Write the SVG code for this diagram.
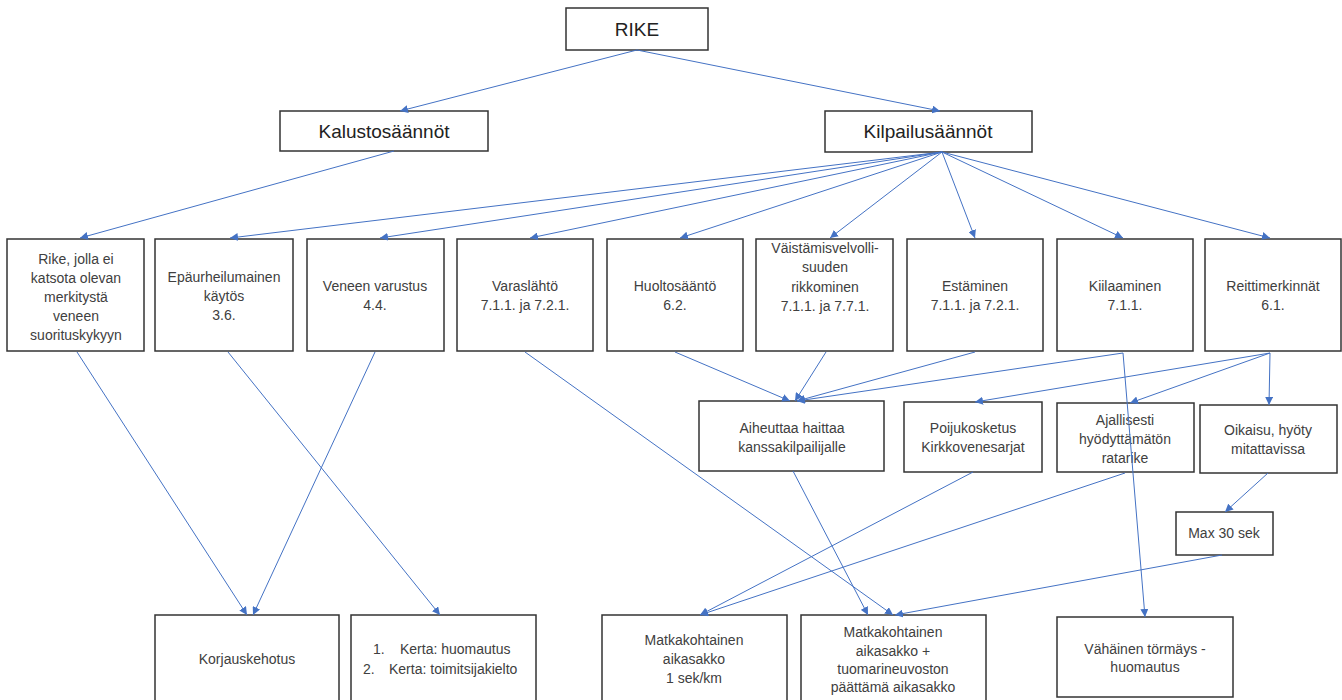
<svg xmlns="http://www.w3.org/2000/svg" width="1342" height="700" viewBox="0 0 1342 700">
<style>
.box{fill:#fff;stroke:#333;stroke-width:1.5}
.t{font-family:"Liberation Sans",Arial,sans-serif;font-size:14px;fill:#404040;text-anchor:middle}
.tl{font-family:"Liberation Sans",Arial,sans-serif;font-size:14px;fill:#404040}
.big{font-family:"Liberation Sans",Arial,sans-serif;font-size:19px;fill:#222;text-anchor:middle}
.c line{stroke:#4472C4;stroke-width:1;marker-end:url(#ah)}
</style>
<defs>
<marker id="ah" viewBox="0 0 10 10" refX="10" refY="5" markerWidth="8" markerHeight="8" markerUnits="userSpaceOnUse" orient="auto">
<path d="M0,0 L10,5 L0,10 z" fill="#4472C4"/>
</marker>
</defs>
<rect width="1342" height="700" fill="#fff"/>
<g id="rike"><rect class="box" x="566" y="8" width="142" height="42"/><text class="big" x="637" y="36">RIKE</text></g>
<g id="kalusto"><rect class="box" x="280" y="111" width="208" height="40"/><text class="big" x="384" y="138">Kalustosäännöt</text></g>
<g id="kilpailu"><rect class="box" x="825" y="111" width="207" height="41"/><text class="big" x="928" y="138">Kilpailusäännöt</text></g>

<g id="n1"><rect class="box" x="7" y="239" width="137" height="112"/>
<text class="t" x="76" y="264">Rike, jolla ei</text><text class="t" x="76" y="283">katsota olevan</text><text class="t" x="76" y="302">merkitystä</text><text class="t" x="76" y="321">veneen</text><text class="t" x="76" y="340">suorituskykyyn</text></g>
<g id="n2"><rect class="box" x="155" y="239" width="138" height="112"/>
<text class="t" x="224" y="282">Epäurheilumainen</text><text class="t" x="224" y="301">käytös</text><text class="t" x="224" y="320">3.6.</text></g>
<g id="n3"><rect class="box" x="307" y="239" width="137" height="112"/>
<text class="t" x="375" y="291">Veneen varustus</text><text class="t" x="375" y="310">4.4.</text></g>
<g id="n4"><rect class="box" x="457" y="239" width="136" height="112"/>
<text class="t" x="525" y="291">Varaslähtö</text><text class="t" x="525" y="310">7.1.1. ja 7.2.1.</text></g>
<g id="n5"><rect class="box" x="607" y="239" width="136" height="112"/>
<text class="t" x="675" y="291">Huoltosääntö</text><text class="t" x="675" y="310">6.2.</text></g>
<g id="n6"><rect class="box" x="756" y="239" width="137" height="112"/>
<text class="t" x="825" y="253">Väistämisvelvolli-</text><text class="t" x="825" y="272">suuden</text><text class="t" x="825" y="292">rikkominen</text><text class="t" x="825" y="311">7.1.1. ja 7.7.1.</text></g>
<g id="n7"><rect class="box" x="907" y="239" width="136" height="112"/>
<text class="t" x="975" y="291">Estäminen</text><text class="t" x="975" y="310">7.1.1. ja 7.2.1.</text></g>
<g id="n8"><rect class="box" x="1057" y="239" width="136" height="112"/>
<text class="t" x="1125" y="291">Kiilaaminen</text><text class="t" x="1125" y="310">7.1.1.</text></g>
<g id="n9"><rect class="box" x="1205" y="239" width="136" height="112"/>
<text class="t" x="1273" y="291">Reittimerkinnät</text><text class="t" x="1273" y="310">6.1.</text></g>

<g id="aiheuttaa"><rect class="box" x="699" y="401" width="185" height="70"/>
<text class="t" x="792" y="433">Aiheuttaa haittaa</text><text class="t" x="792" y="452">kanssakilpailijalle</text></g>
<g id="poiju"><rect class="box" x="904" y="402" width="138" height="70"/>
<text class="t" x="973" y="433">Poijukosketus</text><text class="t" x="973" y="452">Kirkkovenesarjat</text></g>
<g id="ajallisesti"><rect class="box" x="1057" y="403" width="137" height="69"/>
<text class="t" x="1125" y="425">Ajallisesti</text><text class="t" x="1125" y="444">hyödyttämätön</text><text class="t" x="1125" y="463">ratarike</text></g>
<g id="oikaisu"><rect class="box" x="1200" y="405" width="137" height="68"/>
<text class="t" x="1268" y="435">Oikaisu, hyöty</text><text class="t" x="1268" y="454">mitattavissa</text></g>
<g id="max30"><rect class="box" x="1176" y="512" width="97" height="43"/>
<text class="t" x="1224" y="538">Max 30 sek</text></g>

<g id="korjaus"><rect class="box" x="155" y="615" width="184" height="92"/>
<text class="t" x="247" y="664">Korjauskehotus</text></g>
<g id="kerta"><rect class="box" x="351" y="615" width="185" height="92"/>
<text class="tl" x="373" y="654">1.</text><text class="tl" x="400" y="654">Kerta: huomautus</text>
<text class="tl" x="363" y="674">2.</text><text class="tl" x="389" y="674">Kerta: toimitsijakielto</text></g>
<g id="matka1"><rect class="box" x="602" y="615" width="185" height="92"/>
<text class="t" x="694" y="645">Matkakohtainen</text><text class="t" x="694" y="664">aikasakko</text><text class="t" x="694" y="683">1 sek/km</text></g>
<g id="matka2"><rect class="box" x="801" y="615" width="185" height="92"/>
<text class="t" x="893" y="637">Matkakohtainen</text><text class="t" x="893" y="656">aikasakko +</text><text class="t" x="893" y="674">tuomarineuvoston</text><text class="t" x="893" y="692">päättämä aikasakko</text></g>
<g id="vahainen"><rect class="box" x="1057" y="617" width="176" height="80"/>
<text class="t" x="1145" y="654">Vähäinen törmäys -</text><text class="t" x="1145" y="672">huomautus</text></g>

<g class="c" id="connectors">
<line x1="637" y1="50" x2="400" y2="111"/>
<line x1="637" y1="50" x2="940" y2="111"/>
<line x1="394" y1="151" x2="80" y2="238"/>
<line x1="942" y1="152" x2="230" y2="238"/>
<line x1="942" y1="152" x2="380" y2="238"/>
<line x1="942" y1="152" x2="530" y2="238"/>
<line x1="942" y1="152" x2="680" y2="238"/>
<line x1="942" y1="152" x2="830" y2="238"/>
<line x1="942" y1="152" x2="975" y2="238"/>
<line x1="942" y1="152" x2="1123" y2="238"/>
<line x1="942" y1="152" x2="1270" y2="238"/>
<line x1="77" y1="352" x2="247" y2="615"/>
<line x1="228" y1="352" x2="440" y2="615"/>
<line x1="375" y1="352" x2="253" y2="615"/>
<line x1="525" y1="352" x2="893" y2="615"/>
<line x1="675" y1="352" x2="790" y2="401"/>
<line x1="826" y1="352" x2="795" y2="401"/>
<line x1="975" y1="352" x2="797" y2="401"/>
<line x1="1123" y1="353" x2="797" y2="401"/>
<line x1="1123" y1="353" x2="1145" y2="617"/>
<line x1="1270" y1="353" x2="975" y2="402"/>
<line x1="1270" y1="353" x2="1130" y2="403"/>
<line x1="1270" y1="353" x2="1269" y2="405"/>
<line x1="793" y1="471" x2="868" y2="615"/>
<line x1="973" y1="472" x2="700" y2="615"/>
<line x1="1125" y1="473" x2="700" y2="615"/>
<line x1="1268" y1="473" x2="1225" y2="512"/>
<line x1="1222" y1="555" x2="895" y2="615"/>
</g>
</svg>
